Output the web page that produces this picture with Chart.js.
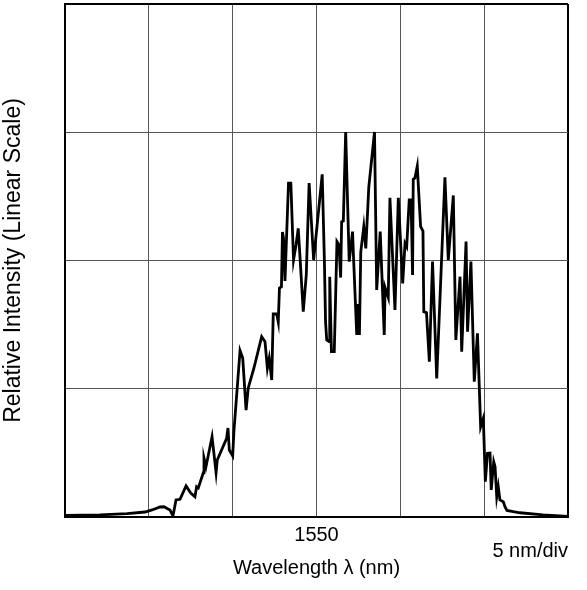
<!DOCTYPE html>
<html>
<head>
<meta charset="utf-8">
<script src="https://cdn.jsdelivr.net/npm/chart.js@4.4.0/dist/chart.umd.min.js"></script>
<style>
html,body{margin:0;padding:0;background:#ffffff;}
#wrap{width:587px;height:590px;}
</style>
</head>
<body>
<div id="wrap"><canvas id="c" width="587" height="590"></canvas></div>
<script>
// Wavelength (nm) of each trace vertex
const wavelengths = [
  1535.00, 1537.09, 1538.70, 1539.77, 1540.19, 1540.67, 1540.90, 1541.26, 1541.44, 1541.62,
  1541.86, 1542.22, 1542.50, 1542.75, 1542.85, 1542.95, 1543.25, 1543.29, 1543.41, 1543.77,
  1544.01, 1544.08, 1544.64, 1544.72, 1544.80, 1545.00, 1545.08, 1545.44, 1545.60, 1545.80,
  1545.93, 1546.27, 1546.73, 1546.93, 1547.07, 1547.18, 1547.33, 1547.42, 1547.63, 1547.72,
  1547.79, 1547.91, 1547.97, 1548.03, 1548.12, 1548.33, 1548.47, 1548.63, 1548.78, 1548.91,
  1549.02, 1549.21, 1549.39, 1549.56, 1549.83, 1550.34, 1550.47, 1550.54, 1550.61, 1550.75,
  1550.79, 1550.89, 1551.06, 1551.22, 1551.34, 1551.44, 1551.50, 1551.60, 1551.74, 1551.95,
  1552.15, 1552.21, 1552.40, 1552.47, 1552.56, 1552.64, 1552.82, 1552.94, 1553.12, 1553.46,
  1553.59, 1553.80, 1554.04, 1554.09, 1554.28, 1554.38, 1554.68, 1554.88, 1555.14, 1555.28,
  1555.38, 1555.53, 1555.64, 1555.73, 1555.77, 1555.87, 1556.01, 1556.21, 1556.35, 1556.40,
  1556.56, 1556.73, 1556.92, 1557.17, 1557.66, 1557.86, 1558.16, 1558.31, 1558.56, 1558.66,
  1558.92, 1559.01, 1559.21, 1559.41, 1559.60, 1559.79, 1559.95, 1560.07, 1560.20, 1560.35,
  1560.42, 1560.57, 1560.65, 1560.75, 1560.84, 1560.94, 1561.14, 1561.24, 1561.36, 1561.74,
  1562.14, 1563.51, 1565.00
];
// Relative intensity (in grid divisions) of each trace vertex
const intensities = [
  0.012, 0.016, 0.027, 0.039, 0.055, 0.078, 0.080, 0.055, 0.008, 0.133,
  0.138, 0.242, 0.187, 0.158, 0.236, 0.226, 0.345, 0.460, 0.392, 0.626,
  0.345, 0.444, 0.614, 0.694, 0.522, 0.476, 0.678, 1.297, 1.240, 0.834,
  1.006, 1.162, 1.406, 1.367, 1.159, 1.237, 1.068, 1.583, 1.583, 1.520,
  1.786, 1.796, 2.222, 2.175, 1.840, 2.604, 2.604, 2.004, 2.121, 2.251,
  2.019, 1.601, 1.887, 2.604, 2.004, 2.672, 2.004, 1.520, 1.380, 1.367,
  1.874, 1.289, 1.289, 2.147, 2.121, 1.867, 2.303, 2.308, 3.002, 1.991,
  2.225, 2.019, 1.419, 1.661, 1.419, 2.066, 2.264, 2.095, 2.575, 3.002,
  1.770, 2.225, 1.419, 1.789, 1.711, 2.489, 1.614, 2.489, 1.822, 2.134,
  2.108, 2.472, 2.472, 1.887, 2.633, 2.643, 2.735, 2.265, 2.230, 1.601,
  1.593, 1.211, 1.991, 1.081, 2.649, 2.004, 2.507, 1.380, 1.874, 1.289,
  2.147, 1.445, 1.991, 1.055, 1.432, 0.704, 0.770, 0.275, 0.497, 0.499,
  0.211, 0.431, 0.392, 0.158, 0.236, 0.133, 0.119, 0.080, 0.051, 0.041,
  0.033, 0.016, 0.004
];
// Axis ranges and labels
const xRange = [1535, 1565];
const xStep = 5;
const yRange = [0, 4];
const yStep = 1;
const xTickLabels = { 1550: '1550' };
const xTitle = 'Wavelength \u03bb (nm)';
const yTitle = 'Relative Intensity (Linear Scale)';
const divText = '5 nm/div';

const FONT = '"Liberation Sans", Arial, Helvetica, sans-serif';
Chart.defaults.color = '#000';
Chart.defaults.font.family = FONT;

const points = wavelengths.map((w, i) => ({ x: w, y: intensities[i] }));

const divLabel = {
  id: 'divLabel',
  afterDraw(chart) {
    const ctx = chart.ctx;
    ctx.save();
    ctx.font = '20px ' + FONT;
    ctx.fillStyle = '#000';
    ctx.textAlign = 'right';
    ctx.textBaseline = 'alphabetic';
    ctx.fillText(divText, chart.chartArea.right, 557);
    ctx.restore();
  }
};

function edgeColor(min, max) {
  return (ctx) => (ctx.tick && (ctx.tick.value === min || ctx.tick.value === max)) ? '#000' : '#555';
}
function edgeWidth(min, max) {
  return (ctx) => (ctx.tick && (ctx.tick.value === min || ctx.tick.value === max)) ? 2 : 1;
}

new Chart(document.getElementById('c'), {
  type: 'scatter',
  data: {
    datasets: [{
      data: points,
      showLine: true,
      borderColor: '#000',
      borderWidth: 2.8,
      pointRadius: 0,
      tension: 0,
      fill: false
    }]
  },
  options: {
    responsive: false,
    animation: false,
    devicePixelRatio: 1,
    layout: { padding: { left: 0, right: 19, top: 4, bottom: 0 } },
    plugins: { legend: { display: false }, tooltip: { enabled: false } },
    scales: {
      x: {
        type: 'linear',
        min: xRange[0], max: xRange[1],
        afterFit(scale) { scale.height = 73; },
        afterBuildTicks(scale) {
          const t = [];
          for (let v = xRange[0]; v <= xRange[1]; v += xStep) t.push({ value: v });
          scale.ticks = t;
        },
        ticks: {
          stepSize: xStep,
          autoSkip: false,
          maxRotation: 0,
          padding: 6,
          font: { size: 20, family: FONT },
          callback: (v) => xTickLabels[v] || ''
        },
        grid: {
          drawTicks: false,
          color: edgeColor(xRange[0], xRange[1]),
          lineWidth: edgeWidth(xRange[0], xRange[1])
        },
        border: { display: true, color: '#000', width: 2 },
        title: {
          display: true,
          text: xTitle,
          font: { size: 20, family: FONT },
          padding: { top: 0, bottom: 10 }
        }
      },
      y: {
        type: 'linear',
        min: yRange[0], max: yRange[1],
        afterFit(scale) { scale.width = 65; },
        ticks: { stepSize: yStep, display: false },
        grid: {
          drawTicks: false,
          color: edgeColor(yRange[0], yRange[1]),
          lineWidth: edgeWidth(yRange[0], yRange[1])
        },
        border: { display: true, color: '#000', width: 2 },
        title: {
          display: true,
          text: yTitle,
          font: { size: 23, family: FONT },
          padding: { top: 0, bottom: 0 }
        }
      }
    }
  },
  plugins: [divLabel]
});
</script>
</body>
</html>
